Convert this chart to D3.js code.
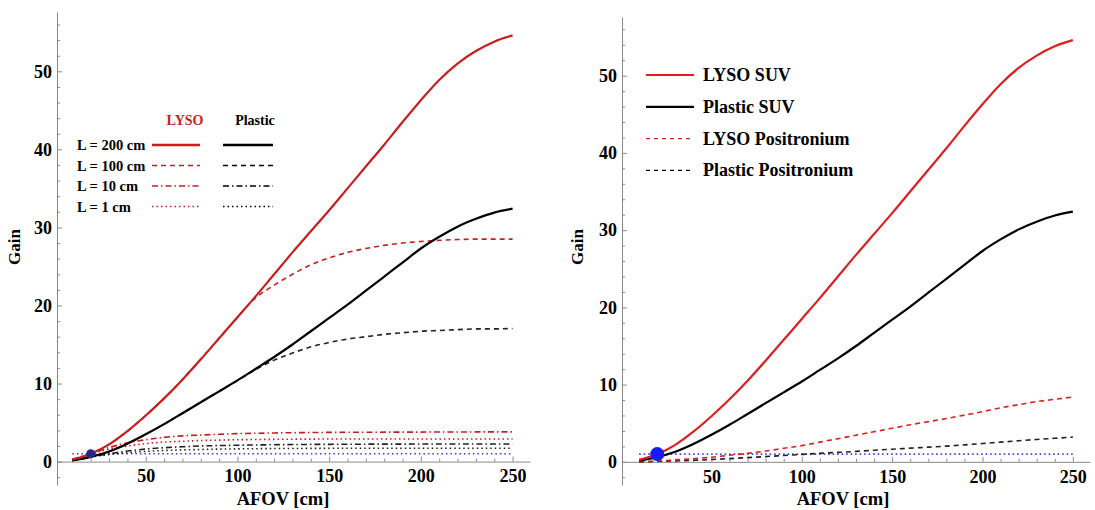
<!DOCTYPE html>
<html>
<head>
<meta charset="utf-8">
<script src="https://cdn.jsdelivr.net/npm/d3@7"></script>
<style>
  body { margin: 0; background: #fff; }
  svg text { font-family: "Liberation Serif", "Times New Roman", serif; font-weight: bold; }
</style>
</head>
<body>
<div id="chart"></div>
<script>
// AFOV [cm] sample positions
const afov = [10, 20, 30, 40, 50, 60, 70, 80, 90, 100, 110, 120, 130, 140, 150,
  160, 170, 180, 190, 200, 210, 220, 230, 240, 250];

// left panel, gain per body length L
const lysoL200 = [0.25, 1.0, 2.2, 3.9, 5.9, 8.1, 10.5, 13.1, 15.8, 18.5, 21.2, 24.0, 26.8, 29.5, 32.2,
  35.0, 37.8, 40.6, 43.5, 46.3, 48.9, 51.0, 52.6, 53.8, 54.6];
const lysoL100 = [0.25, 1.0, 2.2, 3.9, 5.9, 8.1, 10.5, 13.1, 15.8, 18.5, 21.0, 22.6, 24.0, 25.2, 26.1,
  26.8, 27.3, 27.7, 28.0, 28.2, 28.35, 28.45, 28.5, 28.5, 28.5];
const lysoL10 = [0.3, 1.0, 1.8, 2.4, 2.8, 3.1, 3.3, 3.4, 3.5, 3.58, 3.63, 3.67, 3.7, 3.72, 3.74,
  3.75, 3.76, 3.77, 3.78, 3.78, 3.79, 3.79, 3.8, 3.8, 3.8];
const lysoL1 = [0.3, 1.0, 1.6, 2.0, 2.3, 2.5, 2.6, 2.7, 2.75, 2.8, 2.83, 2.85, 2.87, 2.88, 2.89,
  2.9, 2.9, 2.9, 2.9, 2.9, 2.9, 2.9, 2.9, 2.9, 2.9];
const plasticL200 = [0.15, 0.6, 1.3, 2.3, 3.5, 4.8, 6.2, 7.6, 9.0, 10.4, 11.9, 13.4, 15.0, 16.7, 18.4,
  20.1, 21.9, 23.7, 25.5, 27.3, 28.8, 30.1, 31.1, 31.9, 32.4];
const plasticL100 = [0.15, 0.6, 1.3, 2.3, 3.5, 4.8, 6.2, 7.6, 9.0, 10.4, 11.8, 13.0, 13.9, 14.7, 15.25,
  15.7, 16.0, 16.3, 16.5, 16.7, 16.8, 16.9, 17.0, 17.0, 17.05];
const plasticL10 = [0.15, 0.6, 1.0, 1.35, 1.6, 1.78, 1.9, 2.0, 2.05, 2.1, 2.13, 2.16, 2.18, 2.2, 2.21,
  2.22, 2.23, 2.24, 2.24, 2.25, 2.25, 2.25, 2.25, 2.25, 2.25];
const plasticL1 = [0.15, 0.6, 0.9, 1.15, 1.3, 1.42, 1.5, 1.55, 1.6, 1.63, 1.65, 1.67, 1.68, 1.69, 1.7,
  1.7, 1.7, 1.7, 1.7, 1.7, 1.7, 1.7, 1.7, 1.7, 1.7];

// right panel positronium imaging gain
const lysoPos = [0.0, 0.1, 0.25, 0.4, 0.6, 0.85, 1.1, 1.4, 1.75, 2.1, 2.55, 3.0, 3.45, 3.9, 4.35,
  4.8, 5.2, 5.6, 6.05, 6.5, 7.0, 7.4, 7.8, 8.1, 8.4];
const plasticPos = [0.0, 0.05, 0.12, 0.2, 0.3, 0.42, 0.55, 0.68, 0.82, 0.96, 1.1, 1.22, 1.35, 1.5, 1.63,
  1.77, 1.9, 2.04, 2.2, 2.37, 2.55, 2.73, 2.9, 3.05, 3.2];

// reference scanner (20 cm AFOV, gain 1)
const refAfov = [10, 250];
const refGain = [1, 1];
const refPoint = [20, 1];

const xTicks = [50, 100, 150, 200, 250];
const yTicks = [0, 10, 20, 30, 40, 50];

const leftLegendRows = ["L = 200 cm", "L = 100 cm", "L = 10 cm", "L = 1 cm"];
const leftLegendHeads = ["LYSO", "Plastic"];
const rightLegendRows = ["LYSO SUV", "Plastic SUV", "LYSO Positronium", "Plastic Positronium"];

const RED = "#c81e1e";
const RED2 = "#dc1f1f";
const DASH = "5,4", DASHDOT = "6,3,1.5,3", DOT = "1.5,3";

const svg = d3.select("#chart").append("svg")
  .attr("width", 1095).attr("height", 510);

function zip(ys, xs) {
  xs = xs || afov;
  return ys.map((g, i) => ({ afov: xs[i], gain: g }));
}

function drawPanel(opts) {
  const x = d3.scaleLinear().domain(opts.xDomain).range(opts.xRange);
  const y = d3.scaleLinear().domain([-3, 57.6]).range(opts.yRange);
  const g = svg.append("g");

  // minor ticks
  const minorY = d3.range(-2, 57, 2).filter(v => v % 10 !== 0);
  const minorX = d3.range(10, 256, 10).filter(v => v % 50 !== 0);

  const yAx = g.append("g").attr("transform", `translate(${opts.xRange[0]},0)`)
    .call(d3.axisLeft(y).tickValues(yTicks).tickSizeInner(-5).tickSizeOuter(0).tickPadding(5));
  g.append("g").attr("transform", `translate(${opts.xRange[0]},0)`)
    .call(d3.axisLeft(y).tickValues(minorY).tickSizeInner(-3).tickSizeOuter(0).tickFormat(""))
    .select(".domain").remove();
  const xAx = g.append("g").attr("transform", `translate(0,${y(0)})`)
    .call(d3.axisBottom(x).tickValues(xTicks).tickSizeInner(-5).tickSizeOuter(0).tickPadding(8));
  g.append("g").attr("transform", `translate(0,${y(0)})`)
    .call(d3.axisBottom(x).tickValues(minorX).tickSizeInner(-3).tickSizeOuter(0).tickFormat(""))
    .select(".domain").remove();

  g.selectAll(".domain, .tick line").attr("stroke", "#8a8a8a");
  yAx.selectAll("text").attr("font-size", 18).attr("fill", "#000");
  xAx.selectAll("text").attr("font-size", 18).attr("fill", "#000");

  // axis titles
  g.append("text").attr("transform", `translate(${opts.gainX},247) rotate(-90)`)
    .attr("text-anchor", "middle").attr("font-size", 17).text("Gain");
  g.append("text").attr("x", opts.afovX).attr("y", 505)
    .attr("text-anchor", "middle").attr("font-size", 18.5).text("AFOV [cm]");

  const line = d3.line().x(d => x(d.afov)).y(d => y(d.gain)).curve(d3.curveMonotoneX);

  opts.series.forEach(s => {
    g.append("path")
      .attr("d", line(s.data))
      .attr("fill", "none")
      .attr("stroke", s.color)
      .attr("stroke-width", s.width)
      .attr("stroke-dasharray", s.dash || null);
  });

  g.append("circle")
    .attr("cx", x(refPoint[0])).attr("cy", y(refPoint[1]))
    .attr("r", opts.dotR).attr("fill", opts.dotColor);

  return { g, x, y };
}

// left panel
const left = drawPanel({
  xDomain: [1.6, 259.5], xRange: [57, 530], yRange: [485, 12],
  gainX: 20, afovX: 283, dotR: 4.5, dotColor: "#2a2486",
  series: [
    { data: zip(refGain, refAfov), color: "#3a3ad0", width: 1.6, dash: DOT },
    { data: zip(plasticL1), color: "#222", width: 1.6, dash: DOT },
    { data: zip(plasticL10), color: "#222", width: 1.6, dash: DASHDOT },
    { data: zip(lysoL1), color: RED, width: 1.6, dash: DOT },
    { data: zip(lysoL10), color: RED, width: 1.6, dash: DASHDOT },
    { data: zip(plasticL100), color: "#222", width: 1.6, dash: DASH },
    { data: zip(lysoL100), color: RED, width: 1.6, dash: DASH },
    { data: zip(plasticL200), color: "#000", width: 2.2 },
    { data: zip(lysoL200), color: RED, width: 2.2 }
  ]
});

// left legend
const lg = left.g.append("g");
lg.selectAll(".head").data(leftLegendHeads).join("text")
  .attr("x", (d, i) => [185, 255][i]).attr("y", 125)
  .attr("text-anchor", "middle").attr("font-size", 14)
  .attr("fill", (d, i) => i === 0 ? RED : "#000").text(d => d);
const lDash = [null, DASH, DASHDOT, DOT];
const lWidth = [2.6, 1.6, 1.6, 1.6];
leftLegendRows.forEach((label, i) => {
  const cy = 145 + i * 20.5;
  lg.append("text").attr("x", 77).attr("y", cy + 5).attr("font-size", 14.5).text(label);
  [[152, 200, RED], [223, 273, "#000"]].forEach(([x1, x2, c]) => {
    lg.append("line").attr("x1", x1).attr("x2", x2).attr("y1", cy).attr("y2", cy)
      .attr("stroke", c).attr("stroke-width", lWidth[i]).attr("stroke-dasharray", lDash[i]);
  });
});

// right panel
const right = drawPanel({
  xDomain: [0.5, 259.5], xRange: [622, 1090], yRange: [485, 17],
  gainX: 583, afovX: 843, dotR: 7, dotColor: "#1a1af5",
  series: [
    { data: zip(refGain, refAfov), color: "#3a3af0", width: 1.6, dash: DOT },
    { data: zip(plasticPos), color: "#222", width: 1.6, dash: DASH },
    { data: zip(lysoPos), color: RED2, width: 1.6, dash: DASH },
    { data: zip(plasticL200), color: "#000", width: 2.2 },
    { data: zip(lysoL200), color: RED2, width: 2.2 }
  ]
});

const rg = right.g.append("g");
const rStyle = [[RED2, null, 2.2], ["#000", null, 2.2], [RED2, "4,4", 1.4], ["#000", "4,4", 1.4]];
rightLegendRows.forEach((label, i) => {
  const cy = 75 + i * 31.8;
  rg.append("line").attr("x1", 646).attr("x2", 694).attr("y1", cy).attr("y2", cy)
    .attr("stroke", rStyle[i][0]).attr("stroke-width", rStyle[i][2])
    .attr("stroke-dasharray", rStyle[i][1]);
  rg.append("text").attr("x", 703).attr("y", cy + 6).attr("font-size", 18).text(label);
});
</script>
</body>
</html>
